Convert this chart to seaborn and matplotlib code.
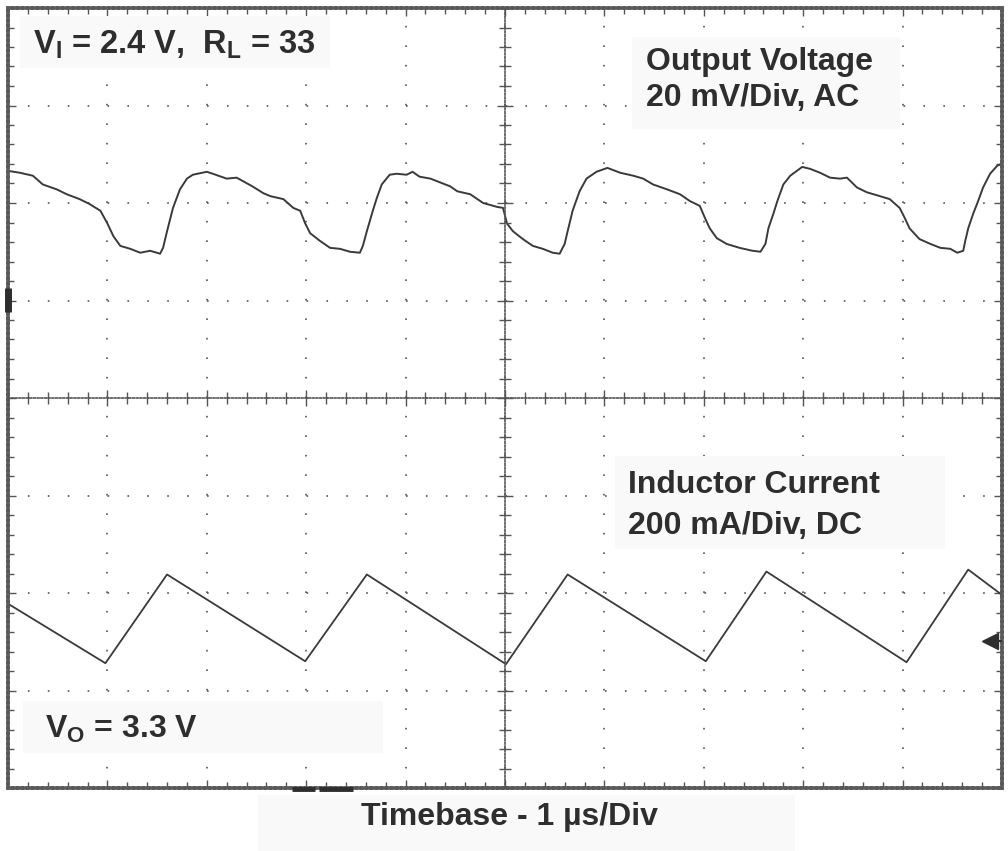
import numpy as np
import pandas as pd
import matplotlib.pyplot as plt
import seaborn as sns
from matplotlib.patches import Rectangle
from matplotlib.ticker import MultipleLocator

# time in us (1 us/div), trace position in screen divisions (0 = centre line)
vout_t = [0.00, 0.12, 0.25, 0.35, 0.49, 0.59, 0.72, 0.82, 0.93, 1.00, 1.06, 1.13, 1.23, 1.33,
          1.43, 1.53, 1.56, 1.60, 1.66, 1.73, 1.80, 1.86, 2.00, 2.06, 2.20, 2.30, 2.46, 2.57,
          2.64, 2.77, 2.87, 2.94, 2.99, 3.04, 3.14, 3.24, 3.34, 3.44, 3.54, 3.57, 3.61, 3.67,
          3.71, 3.76, 3.84, 3.91, 4.01, 4.07, 4.14, 4.25, 4.35, 4.45, 4.52, 4.65, 4.78, 4.92,
          4.98, 5.02, 5.08, 5.18, 5.28, 5.38, 5.48, 5.55, 5.60, 5.63, 5.68, 5.75, 5.82, 5.92,
          6.03, 6.16, 6.29, 6.39, 6.49, 6.63, 6.76, 6.86, 6.96, 7.01, 7.06, 7.13, 7.23, 7.36,
          7.49, 7.57, 7.62, 7.65, 7.70, 7.74, 7.80, 7.87, 7.99, 8.07, 8.17, 8.27, 8.37, 8.44,
          8.54, 8.64, 8.74, 8.87, 8.97, 9.02, 9.07, 9.17, 9.28, 9.38, 9.48, 9.55, 9.61, 9.63,
          9.66, 9.71, 9.76, 9.81, 9.88, 9.95, 9.99]
vout_div = [2.33, 2.31, 2.28, 2.19, 2.14, 2.09, 2.04, 1.99, 1.92, 1.79, 1.66, 1.56, 1.53, 1.49,
            1.51, 1.48, 1.54, 1.71, 1.95, 2.14, 2.25, 2.29, 2.32, 2.30, 2.25, 2.26, 2.17, 2.10,
            2.07, 2.04, 1.95, 1.92, 1.79, 1.69, 1.61, 1.54, 1.53, 1.50, 1.49, 1.56, 1.71, 1.92,
            2.05, 2.19, 2.29, 2.30, 2.29, 2.32, 2.27, 2.25, 2.21, 2.17, 2.12, 2.09, 2.00, 1.96,
            1.95, 1.79, 1.71, 1.63, 1.56, 1.53, 1.49, 1.48, 1.58, 1.71, 1.92, 2.12, 2.25, 2.32,
            2.36, 2.31, 2.28, 2.25, 2.19, 2.14, 2.09, 2.02, 1.97, 1.85, 1.74, 1.64, 1.58, 1.54,
            1.51, 1.50, 1.58, 1.74, 1.89, 2.02, 2.19, 2.28, 2.37, 2.35, 2.31, 2.26, 2.25, 2.26,
            2.16, 2.11, 2.08, 2.04, 1.95, 1.85, 1.74, 1.63, 1.58, 1.54, 1.53, 1.49, 1.51, 1.61,
            1.74, 1.89, 2.02, 2.16, 2.30, 2.38, 2.40]

il_t = [0.00, 0.98, 1.60, 2.99, 3.61, 5.01, 5.63, 7.02, 7.63, 9.04, 9.66, 10.0]
il_div = [-2.11, -2.72, -1.81, -2.70, -1.81, -2.73, -1.81, -2.70, -1.78, -2.71, -1.76, -2.02]

ch1_ground_div = 1.0
trigger_level_div = -2.49

df_v = pd.DataFrame({"t": vout_t, "y": vout_div})
df_i = pd.DataFrame({"t": il_t, "y": il_div})

sns.set_theme(style="white")
plt.rcParams["font.family"] = ["Liberation Sans", "DejaVu Sans"]
plt.rcParams["font.weight"] = "bold"
plt.rcParams["mathtext.fontset"] = "custom"
plt.rcParams["mathtext.rm"] = "Liberation Sans:bold"
plt.rcParams["mathtext.it"] = "Liberation Sans:bold"
plt.rcParams["mathtext.bf"] = "Liberation Sans:bold"

ink = "#2e2e2e"
trace = "#3a3a3a"
boxc = "#f9f9f9"

fig = plt.figure(figsize=(10.08, 8.51), dpi=100)
fig.patch.set_facecolor("white")
pos = [8 / 1008, 63 / 851, 994 / 1008, 780 / 851]
ax = fig.add_axes(pos)
ax.set_xlim(0, 10)
ax.set_ylim(-4, 4)
ax.set_facecolor("white")

for a in (ax.xaxis, ax.yaxis):
    a.set_major_locator(MultipleLocator(1))
    a.set_minor_locator(MultipleLocator(0.2))
ax.xaxis.grid(True, which="major", color="#555555", lw=1.2, linestyle=(0, (1, 10.7)))
ax.yaxis.grid(True, which="major", color="#555555", lw=1.2, linestyle=(0, (1, 10.94)))
ax.tick_params(which="both", direction="in", bottom=True, top=True, left=True, right=True,
               labelbottom=False, labelleft=False, color="#555555", width=1)
ax.tick_params(which="major", length=6)
ax.tick_params(which="minor", length=4)
for s in ax.spines.values():
    s.set_color("#5a5a5a")
    s.set_linewidth(2.6)
    s.set_linestyle((0, (1, 0.4)))

sns.lineplot(data=df_v, x="t", y="y", ax=ax, color=trace, lw=1.4, estimator=None)
sns.lineplot(data=df_i, x="t", y="y", ax=ax, color=trace, lw=1.3, estimator=None)
ax.set_xlabel("")
ax.set_ylabel("")

# centre crosshair with graticule ticks
ax2 = fig.add_axes(pos)
ax2.set_xlim(0, 10)
ax2.set_ylim(-4, 4)
ax2.patch.set_visible(False)
ax2.spines["top"].set_visible(False)
ax2.spines["right"].set_visible(False)
ax2.spines["left"].set_position(("data", 5))
ax2.spines["bottom"].set_position(("data", 0))
for k in ("left", "bottom"):
    ax2.spines[k].set_color("#555555")
    ax2.spines[k].set_linewidth(1.2)
    ax2.spines[k].set_linestyle((0, (1, 1.2)))
for a in (ax2.xaxis, ax2.yaxis):
    a.set_major_locator(MultipleLocator(1))
    a.set_minor_locator(MultipleLocator(0.2))
ax2.tick_params(which="both", direction="inout", bottom=True, left=True,
                labelbottom=False, labelleft=False, color="#555555", width=1)
ax2.tick_params(which="major", length=12)
ax2.tick_params(which="minor", length=8)

# scope markers
ax.plot([0, 0], [ch1_ground_div - 0.12, ch1_ground_div + 0.13], color=ink, lw=5,
        solid_capstyle="butt", clip_on=False, zorder=6)
ax.plot([9.9, 10], [trigger_level_div] * 2, color=ink, lw=1.5, zorder=6)
ax.plot(9.88, trigger_level_div, marker="<", ms=12, color=ink, zorder=6)
ax.plot([2.86, 3.09], [-4.01, -4.01], color=ink, lw=3.5, solid_capstyle="butt", clip_on=False, zorder=6)
ax.plot([3.13, 3.47], [-4.01, -4.01], color=ink, lw=3.5, solid_capstyle="butt", clip_on=False, zorder=6)

# label boxes
def box(x0, x1, y0, y1):
    ax.add_patch(Rectangle((x0, y0), x1 - x0, y1 - y0, facecolor=boxc, edgecolor="none", zorder=3))

fs = 23
box(0.12, 3.24, 3.38, 3.92)
ax.text(0.25, 3.53, r"V$_\mathrm{I}$ = 2.4 V,  R$_\mathrm{L}$ = 33", fontsize=23.5, color=ink,
        fontweight="bold", va="baseline", zorder=4)
box(6.28, 8.97, 2.76, 3.70)
ax.text(6.42, 3.36, "Output Voltage", fontsize=fs, color=ink, fontweight="bold", va="baseline", zorder=4)
ax.text(6.42, 2.99, "20 mV/Div, AC", fontsize=fs, color=ink, fontweight="bold", va="baseline", zorder=4)
box(6.11, 9.43, -1.55, -0.59)
ax.text(6.24, -0.97, "Inductor Current", fontsize=fs, color=ink, fontweight="bold", va="baseline", zorder=4)
ax.text(6.24, -1.39, "200 mA/Div, DC", fontsize=fs, color=ink, fontweight="bold", va="baseline", zorder=4)
box(0.15, 3.77, -3.64, -3.11)
ax.text(0.37, -3.49, r"V$_\mathrm{O}$ = 3.3 V", fontsize=fs, color=ink, fontweight="bold",
        va="baseline", zorder=4)

fig.patches.append(Rectangle((258 / 1008, 0), 537 / 1008, 56 / 851, transform=fig.transFigure,
                             facecolor=boxc, edgecolor="none", zorder=0))
fig.text(509 / 1008, 26 / 851, "Timebase - 1 µs/Div", fontsize=fs, color=ink, fontweight="bold",
         ha="center", va="baseline")

fig.savefig("out.png", dpi=100)
